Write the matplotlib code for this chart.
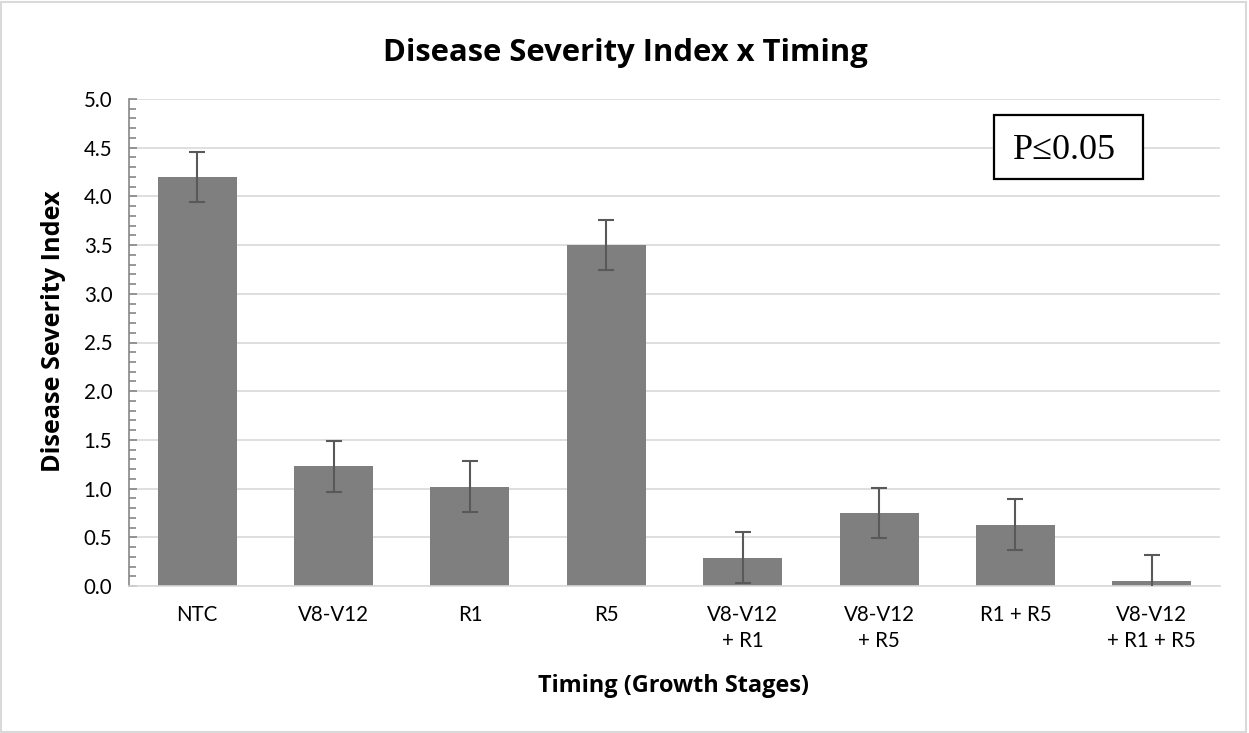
import matplotlib
matplotlib.use("Agg")
import matplotlib.pyplot as plt
from matplotlib.patches import Rectangle
from matplotlib.ticker import MultipleLocator
import numpy as np

categories = ["NTC", "V8-V12", "R1", "R5", "V8-V12\n+ R1", "V8-V12\n+ R5", "R1 + R5", "V8-V12\n+ R1 + R5"]
values = [4.20, 1.23, 1.02, 3.50, 0.29, 0.75, 0.63, 0.05]
errors = [0.26, 0.26, 0.26, 0.26, 0.26, 0.26, 0.26, 0.27]

plt.rcParams['font.family'] = ['Lato', 'DejaVu Sans']
BOLD = ['Open Sans', 'DejaVu Sans']

W, H = 1249, 733
fig = plt.figure(figsize=(W/100, H/100), dpi=100)
ax = fig.add_axes([129/W, 1-586/H, (1220-129)/W, (586-99)/H])

x = np.arange(len(categories))
ax.bar(x, values, width=0.58, color="#7f7f7f", zorder=2)
ax.errorbar(x, values, yerr=errors, fmt='none', ecolor="#595959", elinewidth=1.5,
            capsize=6, capthick=1.5, zorder=3, clip_on=True)

ax.set_xlim(-0.5, len(categories)-0.5)
ax.set_ylim(0, 5.0)
ax.yaxis.set_major_locator(MultipleLocator(0.5))
ax.yaxis.set_minor_locator(MultipleLocator(0.1))
ax.yaxis.set_major_formatter(matplotlib.ticker.FormatStrFormatter('%.1f'))
ax.grid(axis='y', color='#d9d9d9', linewidth=1.2, zorder=0)
ax.set_axisbelow(True)

for s in ['top', 'right']:
    ax.spines[s].set_visible(False)
ax.spines['left'].set_color('#868686')
ax.spines['left'].set_linewidth(1.2)
ax.spines['bottom'].set_color('#d9d9d9')
ax.spines['bottom'].set_linewidth(1.2)

ax.tick_params(axis='y', which='major', direction='in', length=6, color='#868686', width=1.2,
               labelsize=14.8, pad=12, labelcolor='black')
ax.tick_params(axis='y', which='minor', direction='in', length=5, color='#868686', width=1.2)
ax.tick_params(axis='x', length=0, labelsize=14.8, pad=14)
ax.set_xticks(x)
ax.set_xticklabels(categories, linespacing=1.35)

fig.text(54/W, 1-331/H, "Disease Severity Index", fontsize=18.2, fontweight='bold', family=BOLD,
         rotation=90, ha='center', va='center')
fig.text(673/W, 1-686/H, "Timing (Growth Stages)", fontsize=16.9, fontweight='bold', family=BOLD,
         ha='center', va='center')
fig.text(625/W, 1-61/H, "Disease Severity Index x Timing", fontsize=22.3, fontweight='bold',
         family=BOLD, ha='center', va='baseline')

ax.add_patch(Rectangle((0.7925, 0.8355), 149/1091, 64/487, transform=ax.transAxes,
                       facecolor='white', edgecolor='black', linewidth=1.6, zorder=5))
ax.text(0.8579, 0.877, "P≤0.05", transform=ax.transAxes, fontsize=26,
        family=['Liberation Serif', 'DejaVu Serif'], ha='center', va='baseline', zorder=6)

fig.patches.append(Rectangle((1/W, 1/H), 1245/W, 730/H, transform=fig.transFigure,
                             fill=False, edgecolor='#d9d9d9', linewidth=1.5))

fig.savefig("out.png", dpi=100)
